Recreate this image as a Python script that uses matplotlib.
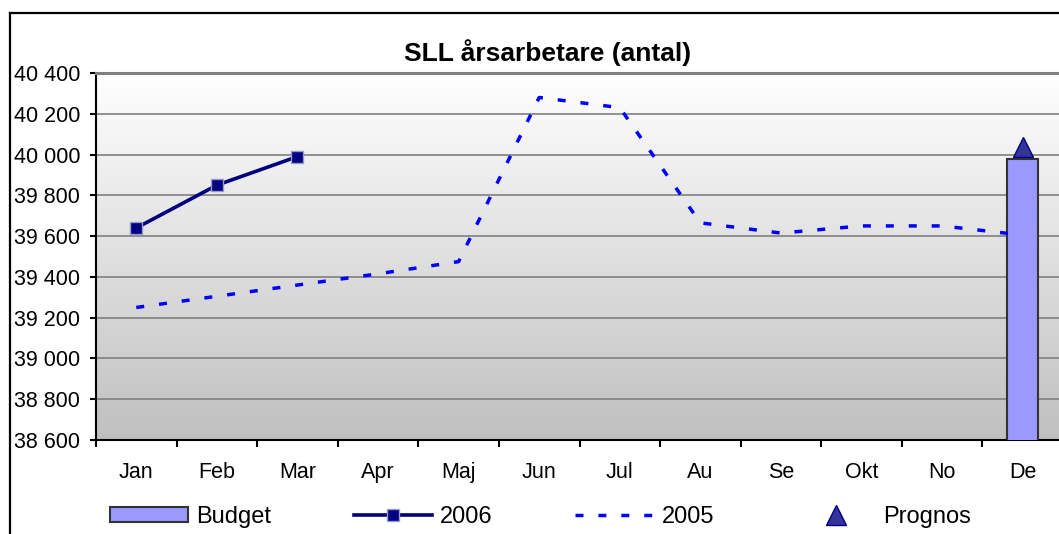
import numpy as np
import matplotlib
matplotlib.use("Agg")
import matplotlib.pyplot as plt
from matplotlib.lines import Line2D
from matplotlib.patches import Patch
from matplotlib.ticker import FuncFormatter, MultipleLocator

plt.rcParams['font.family'] = ['Liberation Sans', 'DejaVu Sans']

months = ["Jan", "Feb", "Mar", "Apr", "Maj", "Jun", "Jul", "Au", "Se", "Okt", "No", "De"]
budget = [np.nan] * 11 + [39980]
y2006 = [39640, 39850, 39990] + [np.nan] * 9
y2005 = [39250, 39305, 39360, 39415, 39475, 40280, 40230, 39665, 39615, 39650, 39650, 39605]
prognos = [np.nan] * 11 + [40035]

W, H = 1059, 534
fig = plt.figure(figsize=(W / 100, H / 100), dpi=100)
ax = fig.add_axes([96 / W, 1 - 440 / H, (1063 - 96) / W, (440 - 73) / H])

# gradient background, white at top to grey at bottom
grad = np.linspace(1, 0, 256).reshape(-1, 1)
ax.imshow(grad, extent=[0, 1, 0, 1], transform=ax.transAxes, aspect='auto',
          cmap=matplotlib.colors.LinearSegmentedColormap.from_list('g', ['#c0c0c0', '#ffffff']),
          zorder=0)

dash05 = (0, (2.3, 4.3))

x = np.arange(len(months))
ax.bar(x, budget, width=0.39, color='#9999ff', edgecolor='#333333', linewidth=1.5, zorder=3)
ax.plot(x, y2006, color='#000080', lw=2.6, marker='s', markersize=8,
        markerfacecolor='#000080', markeredgecolor='#9999cc', markeredgewidth=1, zorder=5)
ax.plot(x, y2005, color='#0000ff', lw=2.5, linestyle=dash05, zorder=4)
ax.plot(x, prognos, linestyle='none', marker='^', markersize=14,
        markerfacecolor='#333399', markeredgecolor='#000080', zorder=6)

ax.set_xlim(-0.5, 11.5)
ax.set_ylim(38600, 40400)
ax.yaxis.set_major_locator(MultipleLocator(200))
ax.yaxis.set_major_formatter(FuncFormatter(lambda v, p: f"{int(v):,}".replace(",", " ")))
ax.grid(axis='y', color='#808080', lw=1.2, zorder=1)
ax.set_axisbelow(True)

ax.set_xticks(x)
ax.set_xticklabels(months)
ax.set_xticks(np.arange(-0.5, 12, 1), minor=True)
ax.tick_params(axis='x', which='major', length=0, pad=16, labelsize=15.5)
ax.tick_params(axis='x', which='minor', length=5, width=1.5, direction='out', color='black')
ax.tick_params(axis='y', length=4.5, width=1.5, pad=7, labelsize=15.5)

for s in ['left', 'bottom']:
    ax.spines[s].set_color('black')
    ax.spines[s].set_linewidth(1.5)
ax.spines['top'].set_color('#808080')
ax.spines['top'].set_linewidth(2.2)
ax.spines['right'].set_visible(False)

fig.text(548 / W, 1 - 61 / H, "SLL årsarbetare (antal)", ha='center', va='baseline',
         fontsize=19, fontweight='bold')

# outer chart frame
fig.add_artist(Line2D([10 / W, 10 / W], [0, 1 - 13 / H], color='black', lw=1.6))
fig.add_artist(Line2D([10 / W, 1], [1 - 13 / H, 1 - 13 / H], color='black', lw=1.6))

handles = [
    Patch(facecolor='#9999ff', edgecolor='#333333', linewidth=1.5),
    Line2D([], [], color='#000080', lw=2.6, marker='s', markersize=8,
           markerfacecolor='#000080', markeredgecolor='#9999cc'),
    Line2D([], [], color='#0000ff', lw=2.5, linestyle=dash05),
    Line2D([], [], linestyle='none', marker='^', markersize=14,
           markerfacecolor='#333399', markeredgecolor='#000080'),
]
fig.legend(handles, ["Budget", "2006", "2005", "Prognos"], ncol=4, frameon=False,
           loc='center left', bbox_to_anchor=(110 / W, 1 - 517 / H),
           borderpad=0, borderaxespad=0, fontsize=17, handlelength=3.3,
           handleheight=0.6, handletextpad=0.35, columnspacing=3.5, numpoints=1)

fig.savefig("out.png", dpi=100)
